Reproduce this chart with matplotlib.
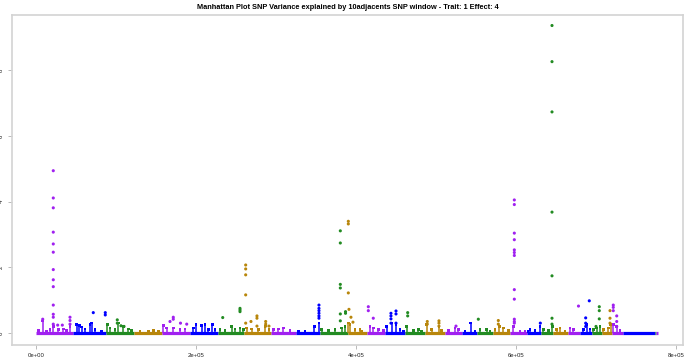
import numpy as np
import matplotlib
matplotlib.use("Agg")
from matplotlib import pyplot as plt

plt.rcParams['font.family'] = ['Liberation Sans', 'DejaVu Sans']

# chromosome boundaries (kb) -- consecutive segments along the genome
chrom_bounds_kb = [0, 45.9, 87.5, 122.5, 157.1, 192.5, 227.1, 260.4, 293.8, 324.6, 355.0,
                   389.4, 413.4, 436.3, 461.3, 486.3, 511.3, 532.1, 551.6, 571.6, 592.5,
                   613.4, 631.3, 646.3, 665.0, 680.0, 695.0, 707.5, 720.0, 733.8, 773.8,
                   774.4, 775.6, 777.5]
chrom_colors = ["#A020F0", "#0000FF", "#228B22", "#B8860B"]

# SNPs standing out from the background (position kb, variance explained)
hit_pos_kb = ([21.6] * 13 + [8.4, 27.1, 32.9, 42.5, 42.5, 42.5]
              + [71.6, 86.6, 86.6]
              + [101.6, 101.6, 106.2, 110.0]
              + [167.5, 171.6, 171.6, 180.6, 188.4]
              + [233.4, 255.0, 255.0, 255.0]
              + [262.1] * 5 + [268.7, 276.2, 276.2, 276.2, 287.1, 287.1, 287.1, 291.2]
              + [353.7] * 6
              + [380.4] * 6 + [386.9, 386.9]
              + [390.4, 390.4, 390.4, 391.2, 393.7, 396.2]
              + [415.4, 415.4, 421.6]
              + [443.7] * 4 + [450.0] * 3
              + [464.6, 464.6]
              + [489.1, 489.1, 503.7, 503.7, 503.7]
              + [525.0, 552.9, 577.9, 577.9]
              + [597.9] * 12
              + [630.4]
              + [645.0] * 7
              + [678.1, 691.6, 687.1, 687.1, 687.1]
              + [704.1, 704.1, 704.1, 700.0]
              + [717.5, 717.5, 717.5]
              + [721.6, 721.6, 721.6, 725.9, 725.9, 725.9])
hit_val = ([4.94, 4.11, 3.81, 3.07, 2.71, 2.46, 1.93, 1.62, 1.41, 0.85, 0.57, 0.48, 0.27,
            0.42, 0.24, 0.24, 0.48, 0.38, 0.27]
           + [0.62, 0.62, 0.55]
           + [0.40, 0.30, 0.22, 0.20]
           + [0.35, 0.48, 0.42, 0.30, 0.27]
           + [0.47, 0.75, 0.70, 0.65]
           + [2.07, 1.95, 1.77, 1.16, 0.30, 0.35, 0.52, 0.45, 0.21, 0.35, 0.27, 0.21, 0.21]
           + [0.85, 0.75, 0.68, 0.60, 0.52, 0.45]
           + [3.11, 2.74, 1.48, 1.37, 0.58, 0.37, 0.65, 0.60]
           + [3.40, 3.32, 1.22, 0.72, 0.48, 0.33]
           + [0.80, 0.68, 0.45]
           + [0.60, 0.52, 0.43, 0.30, 0.67, 0.58, 0.30]
           + [0.62, 0.52]
           + [0.35, 0.27, 0.37, 0.30, 0.21]
           + [0.21, 0.42, 0.38, 0.27]
           + [4.05, 3.91, 3.04, 2.84, 2.53, 2.45, 2.36, 1.32, 1.03, 0.42, 0.35, 0.30]
           + [0.30]
           + [9.36, 8.26, 6.73, 3.68, 1.74, 0.45, 0.27]
           + [0.82, 0.98, 0.46, 0.30, 0.20]
           + [0.80, 0.68, 0.43, 0.20]
           + [0.68, 0.45, 0.30]
           + [0.85, 0.78, 0.68, 0.52, 0.35, 0.20])

# dense low columns of SNPs near the baseline (position kb, top value)
col_pos_kb = [2.9, 8.4, 13.4, 17.5, 21.6, 27.9, 34.1, 38.4, 42.5,
              50.9, 54.1, 57.1, 61.3, 67.5, 69.6, 73.8, 82.1,
              89.1, 92.5, 98.8, 102.9, 109.1, 115.4, 119.6,
              130.0, 140.4, 146.6, 152.9,
              159.1, 163.4, 171.6, 180.0, 186.3,
              196.6, 200.0, 207.1, 211.3, 215.4, 220.4, 223.8,
              230.0, 236.3, 244.6, 248.8, 255.0, 259.1,
              263.4, 269.6, 277.9, 286.3, 291.3,
              296.6, 302.9, 309.1, 317.5,
              327.9, 336.3, 347.9, 353.8,
              357.1, 365.4, 373.8, 382.1, 386.3,
              390.6, 392.5, 398.8, 405.0, 407.1,
              417.5, 421.6, 427.9, 434.1,
              438.4, 444.6, 450.0, 455.0, 459.1,
              463.4, 471.6, 477.9, 482.1,
              488.4, 494.6, 503.8, 507.1,
              515.4, 523.8, 528.0,
              536.3, 543.4, 548.8,
              555.0, 563.4, 567.5,
              573.8, 579.1, 584.1, 590.4,
              596.6, 605.0, 611.3,
              615.0, 617.5, 623.8, 630.0,
              634.1, 640.4, 645.4,
              650.9, 655.0, 661.3,
              667.5, 671.6,
              684.1, 688.4, 692.5,
              696.6, 700.9, 705.0,
              709.1, 715.4, 718.4,
              721.6, 725.9, 730.0]
col_val = [0.08, 0.36, 0.05, 0.10, 0.20, 0.10, 0.12, 0.08, 0.20,
           0.25, 0.22, 0.18, 0.12, 0.25, 0.30, 0.10, 0.05,
           0.25, 0.15, 0.10, 0.30, 0.20, 0.12, 0.08,
           0.06, 0.05, 0.08, 0.04,
           0.22, 0.15, 0.15, 0.10, 0.12,
           0.15, 0.25, 0.22, 0.25, 0.10, 0.25, 0.10,
           0.10, 0.08, 0.20, 0.12, 0.15, 0.10,
           0.15, 0.12, 0.10, 0.20, 0.10,
           0.10, 0.12, 0.15, 0.08,
           0.05, 0.05, 0.20, 0.30,
           0.10, 0.08, 0.10, 0.15, 0.20,
           0.30, 0.25, 0.10, 0.10, 0.05,
           0.20, 0.15, 0.10, 0.08,
           0.20, 0.30, 0.25, 0.10, 0.05,
           0.20, 0.08, 0.10, 0.06,
           0.25, 0.10, 0.20, 0.08,
           0.08, 0.15, 0.10,
           0.05, 0.30, 0.05,
           0.10, 0.10, 0.05,
           0.10, 0.20, 0.15, 0.08,
           0.20, 0.05, 0.05,
           0.05, 0.10, 0.08, 0.20,
           0.10, 0.08, 0.20,
           0.10, 0.15, 0.05,
           0.15, 0.10,
           0.10, 0.25, 0.12,
           0.10, 0.15, 0.20,
           0.10, 0.15, 0.25,
           0.25, 0.20, 0.08]

x_ticks = [0, 2e5, 4e5, 6e5, 8e5]
x_tick_labels = ["0e+00", "2e+05", "4e+05", "6e+05", "8e+05"]
y_ticks = [0, 2, 4, 6, 8]

bounds = np.array(chrom_bounds_kb) * 1000
hit_x = np.array(hit_pos_kb) * 1000
col_x = np.array(col_pos_kb) * 1000


def color_of(x):
    idx = np.clip(np.searchsorted(bounds, x, side="right") - 1, 0, len(bounds) - 2)
    return [chrom_colors[i % 4] for i in idx]


fig = plt.figure(figsize=(6.85, 3.59), dpi=100)
ax = fig.add_axes([12 / 685, 14.5 / 359, 671 / 685, 329.5 / 359])

# background band of SNPs around zero
for i in range(len(bounds) - 1):
    ax.plot([bounds[i], bounds[i + 1]], [0.0, 0.0], color=chrom_colors[i % 4],
            lw=2.3, solid_capstyle="butt", zorder=2)

ax.vlines(col_x, 0, col_val, colors=color_of(col_x), lw=1.1, zorder=2)
ax.scatter(col_x, col_val, s=3.5, c=color_of(col_x), marker="s", lw=0, zorder=3)
ax.scatter(hit_x, hit_val, s=5, c=color_of(hit_x), marker="o", lw=0, zorder=3)

ax.set_xlim(-30000, 808750)
ax.set_ylim(-0.35, 9.68)
ax.set_xticks(x_ticks)
ax.set_xticklabels(x_tick_labels)
ax.set_yticks(y_ticks)
ax.set_yticklabels([str(v) for v in y_ticks], rotation=90, va="center")

for sp in ax.spines.values():
    sp.set_color("#d3d3d3")
    sp.set_linewidth(1.2)
ax.tick_params(length=3, width=0.6, color="#b0b0b0", labelsize=4.3, pad=3,
               labelcolor="#222222")

ax.set_title("Manhattan Plot SNP Variance explained by 10adjacents SNP window - Trait: 1 Effect: 4",
             fontsize=5.3, fontweight="bold", pad=4)

fig.savefig("out.png", dpi=100)
